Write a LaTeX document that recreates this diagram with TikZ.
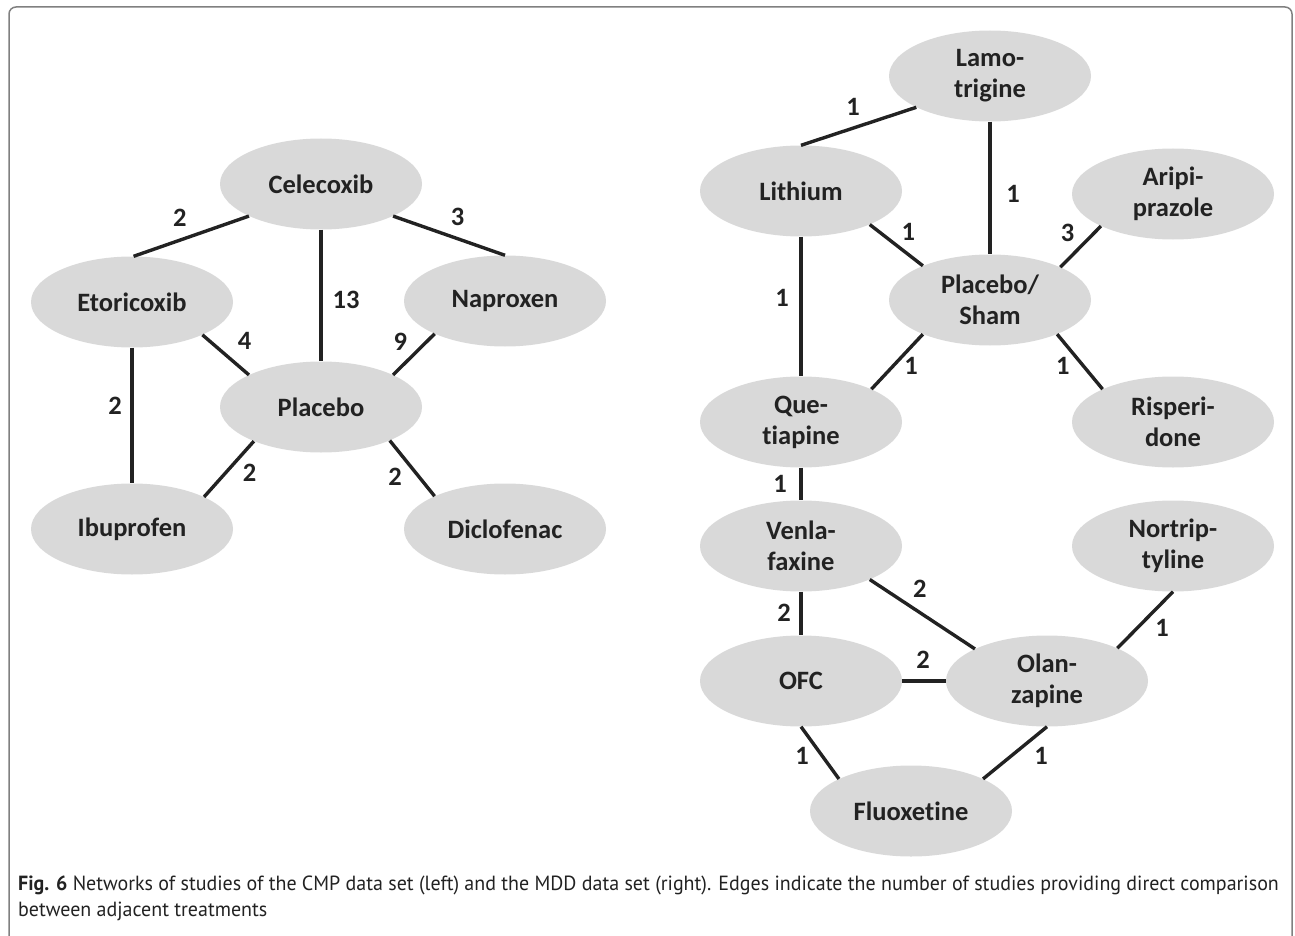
\documentclass[tikz,border=0pt]{standalone}
\usepackage{fontspec}
\setmainfont{Carlito}[Ligatures=NoCommon]
\newfontfamily\capfont[FakeStretch=0.975]{PT Sans}
\usetikzlibrary{shapes.geometric}
\definecolor{drugfill}{RGB}{217,217,217}
\definecolor{ink}{RGB}{34,34,34}
\definecolor{framegray}{RGB}{128,128,128}
\tikzset{
  drug/.style={ellipse, fill=drugfill, minimum width=202pt, minimum height=91pt,
    inner sep=0pt, text=ink, align=center, font=\bfseries\fontsize{26.5}{31}\selectfont},
  link/.style={line width=3.4pt, draw=ink},
  num/.style={text=ink, inner sep=0pt, font=\bfseries\fontsize{26.5}{31}\selectfont},
  frame/.style={line width=1.5pt, draw=framegray, rounded corners=7pt},
}
\begin{document}
\begin{tikzpicture}[x=1pt,y=-1pt]
\useasboundingbox (0,0) rectangle (1295,936);
\draw[frame] (9,945) -- (9,7) -- (1292,7) -- (1292,945);
% CMP network
\node[drug] (cel) at (321,184) {Celecoxib};
\node[drug] (eto) at (132,302) {Etoricoxib};
\node[drug] (nap) at (505,301) {Naproxen};
\node[drug] (pla) at (321,407) {Placebo};
\node[drug] (ibu) at (132,529) {Ibuprofen};
\node[drug] (dic) at (505,529) {Diclofenac};
\draw[link] (cel.204) -- node[num, shift={(-11.5,-18)}] (n1) {2} (eto.88);
\draw[link] (cel.south) -- node[num, shift={(25,4.5)}] (n2) {13} (pla.north);
\draw[link] (cel.336) -- node[num, shift={(8.5,-18.5)}] (n3) {3} (nap.north);
\draw[link] (eto.335) -- node[num, shift={(19,-14)}] (n4) {4} (pla.156);
\draw[link] (nap.205) -- node[num, shift={(-13.5,-12.5)}] (n5) {9} (pla.24);
\draw[link] (eto.south) -- node[num, shift={(-17,-9.5)}] (n6) {2} (ibu.north);
\draw[link] (pla.207) -- node[num, shift={(20.5,4)}] (n7) {2} (ibu.24);
\draw[link] (pla.334) -- node[num, shift={(-17,8.5)}] (n8) {2} (dic.155);
% MDD network
\node[drug] (lam) at (990,76) {Lamo-\\trigine};
\node[drug] (lit) at (801,191) {Lithium};
\node[drug] (ari) at (1173,194) {Aripi-\\prazole};
\node[drug] (sham) at (990,300) {Placebo/\\Sham};
\node[drug] (que) at (801,422) {Que-\\tiapine};
\node[drug] (ris) at (1173,422) {Risperi-\\done};
\node[drug] (ven) at (801,546) {Venla-\\faxine};
\node[drug] (nor) at (1173,546) {Nortrip-\\tyline};
\node[drug] (ofc) at (801,681) {OFC};
\node[drug] (ola) at (1047,681) {Olan-\\zapine};
\node[drug] (flu) at (911,811) {Fluoxetine};
\draw[link] (lam.203) -- node[num, shift={(-5.5,-19)}] (m1) {1} (lit.north);
\draw[link] (lam.south) -- node[num, shift={(23,6)}] (m2) {1} (sham.north);
\draw[link] (lit.334) -- node[num, shift={(12,-13.5)}] (m3) {1} (sham.153);
\draw[link] (ari.204) -- node[num, shift={(-13,-13.5)}] (m4) {3} (sham.25);
\draw[link] (lit.south) -- node[num, shift={(-19,-9)}] (m5) {1} (que.north);
\draw[link] (sham.207) -- node[num, shift={(14,4.5)}] (m6) {1} (que.25);
\draw[link] (sham.333) -- node[num, shift={(-17,4.5)}] (m7) {1} (ris.155);
\draw[link] (que.south) -- node[num, shift={(-21,0)}] (m8) {1} (ven.north);
\draw[link] (ven.south) -- node[num, shift={(-17,-1)}] (m9) {2} (ofc.north);
\draw[link] (ven.334) -- node[num, shift={(-2.5,-25.5)}] (m10) {2} (ola.156);
\draw[link] (ofc.east) -- node[num, shift={(-1,-21)}] (m11) {2} (ola.west);
\draw[link] (nor.south) -- node[num, shift={(17,7.5)}] (m12) {1} (ola.25);
\draw[link] (ofc.south) -- node[num, shift={(-18,3.5)}] (m13) {1} (flu.156);
\draw[link] (ola.south) -- node[num, shift={(26,3.5)}] (m14) {1} (flu.24);
% caption
\node[anchor=base west, inner sep=0pt, text=ink, font=\capfont\fontsize{20.5}{26}\selectfont] (cap1) at (18,890)
  {\textbf{Fig. 6} Networks of studies of the CMP data set (left) and the MDD data set (right). Edges indicate the number of studies providing direct comparison};
\node[anchor=base west, inner sep=0pt, text=ink, font=\capfont\fontsize{20.5}{26}\selectfont] (cap2) at (18,916)
  {between adjacent treatments};
\end{tikzpicture}
\end{document}
